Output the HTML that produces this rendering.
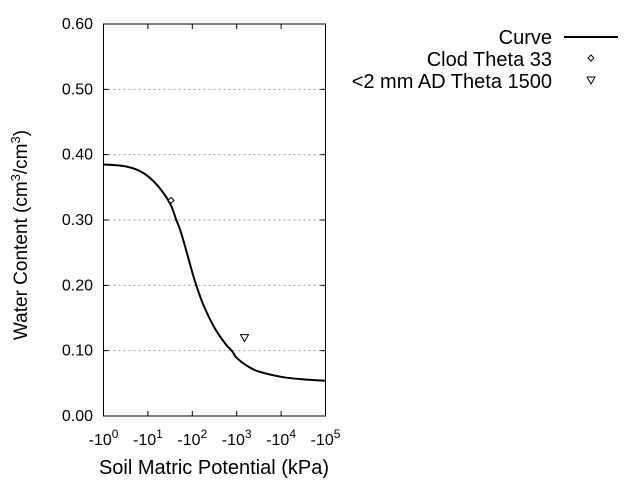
<!DOCTYPE html>
<html><head><meta charset="utf-8"><style>body{margin:0;background:#fff}svg{display:block;font-family:"Liberation Sans",sans-serif}</style></head>
<body>
<svg id="chart" width="640" height="480" viewBox="0 0 640 480"></svg>
<script>
const xTickExps = [0, 1, 2, 3, 4, 5];
const yTicks = [0, 0.1, 0.2, 0.3, 0.4, 0.5, 0.6];
const yTickLabels = ["0.00","0.10","0.20","0.30","0.40","0.50","0.60"];
const curveLogKpa = [0,0.25,0.5,0.75,1,1.25,1.5,1.64,1.75,2,2.09,2.25,2.5,2.75,2.89,3,3.25,3.5,4,4.5,5];
const curveTheta = [0.385,0.384,0.382,0.377,0.367,0.350,0.325,0.30,0.28,0.22,0.20,0.17,0.135,0.11,0.10,0.089,0.076,0.068,0.06,0.056,0.054];
const clodLogKpa = [1.52];
const clodTheta = [0.33];
const adLogKpa = [3.176];
const adTheta = [0.12];

const L=103.5,R=325.5,T=24,B=416;
const sx=v=>L+(v-0)/(5-0)*(R-L);
const sy=v=>B-(v/0.6)*(B-T);
const svg=document.getElementById('chart');
const NS='http://www.w3.org/2000/svg';
function mk(tag,attrs,parent){const e=document.createElementNS(NS,tag);for(const k in attrs)e.setAttribute(k,attrs[k]);(parent||svg).appendChild(e);return e;}

yTicks.forEach((v,i)=>{
  if(v>0&&v<0.6){const g=mk('line',{x1:L,x2:R,y1:sy(v),y2:sy(v),stroke:'#999','stroke-dasharray':'2,3','stroke-width':1});
  
  }
  const t1=mk('line',{x1:L,x2:L+5,y1:sy(v),y2:sy(v),stroke:'#000'});
  
  
  const t2=mk('line',{x1:R-5,x2:R,y1:sy(v),y2:sy(v),stroke:'#000'});
  
  
  const lb=mk('text',{x:93,y:sy(v)+5,'text-anchor':'end','font-size':16});
  lb.textContent=yTickLabels[i];
  
  
});
xTickExps.forEach(e=>{
  const x=sx(e);
  const t1=mk('line',{x1:x,x2:x,y1:B,y2:B-5,stroke:'#000'});
  
  
  const t2=mk('line',{x1:x,x2:x,y1:T,y2:T+5,stroke:'#000'});
  
  
  const lb=mk('text',{x:x,y:445,'text-anchor':'middle','font-size':16});
  lb.innerHTML='-10<tspan dy="-7" font-size="12">'+e+'</tspan>';
  
  
});
const frame=mk('rect',{x:L,y:T,width:R-L,height:B-T,fill:'none',stroke:'#000','stroke-width':1});



const P=curveLogKpa.map((v,i)=>[sx(v),sy(curveTheta[i])]);
let d='M'+P[0][0].toFixed(1)+','+P[0][1].toFixed(1);
for(let i=0;i<P.length-1;i++){
  const p0=P[Math.max(0,i-1)],p1=P[i],p2=P[i+1],p3=P[Math.min(P.length-1,i+2)];
  const c1=[p1[0]+(p2[0]-p0[0])/6,p1[1]+(p2[1]-p0[1])/6];
  const c2=[p2[0]-(p3[0]-p1[0])/6,p2[1]-(p3[1]-p1[1])/6];
  d+=` C${c1[0].toFixed(1)},${c1[1].toFixed(1)} ${c2[0].toFixed(1)},${c2[1].toFixed(1)} ${p2[0].toFixed(1)},${p2[1].toFixed(1)}`;
}
const curve=mk('path',{d:d,fill:'none',stroke:'#000','stroke-width':2,'stroke-linejoin':'round'});



clodLogKpa.forEach((v,i)=>{const x=sx(v),y=sy(clodTheta[i]);
  const p=mk('path',{d:`M${x},${y-3}L${x+3},${y}L${x},${y+3}L${x-3},${y}Z`,fill:'#fff',stroke:'#000','stroke-width':1});
  
  });
adLogKpa.forEach((v,i)=>{const x=sx(v),y=sy(adTheta[i]);
  const p=mk('path',{d:`M${x-4},${y-3}L${x+4},${y-3}L${x},${y+4}Z`,fill:'#fff',stroke:'#000','stroke-width':1});
  
  });

const xt=mk('text',{x:214,y:474,'text-anchor':'middle','font-size':20});
xt.textContent='Soil Matric Potential (kPa)';


const yt=mk('text',{x:0,y:0,'text-anchor':'middle','font-size':19,transform:'translate(27,235) rotate(-90)'});
yt.innerHTML='Water Content (cm<tspan dy="-7" font-size="13">3</tspan><tspan dy="7">/cm</tspan><tspan dy="-7" font-size="13">3</tspan><tspan dy="7">)</tspan>';



const lg=mk('g',{});


[['Curve',44],['Clod Theta 33',66],['<2 mm AD Theta 1500',88]].forEach(([s,y])=>{
  const t=mk('text',{x:552,y:y,'text-anchor':'end','font-size':20},lg);t.textContent=s;
  
  });
const ll=mk('line',{x1:564,x2:618,y1:37,y2:37,stroke:'#000','stroke-width':2},lg);


const ld=mk('path',{d:'M591,55L594,58L591,61L588,58Z',fill:'#fff',stroke:'#000'},lg);


const ltr=mk('path',{d:'M587,77L595,77L591,84Z',fill:'#fff',stroke:'#000'},lg);


</script>
</body></html>
